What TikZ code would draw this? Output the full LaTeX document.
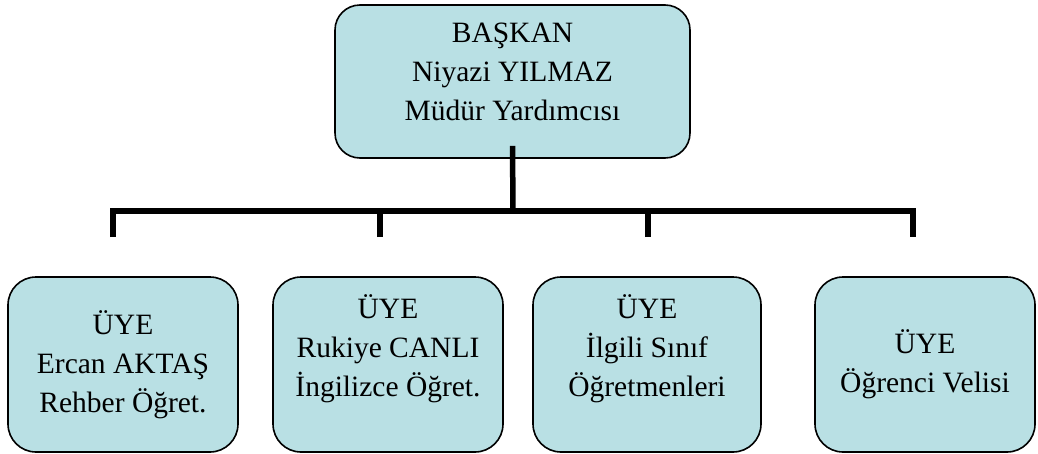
\documentclass[tikz,border=0pt]{standalone}
\usepackage{fontspec}
\setmainfont{Liberation Serif}
\definecolor{boxblue}{RGB}{185,224,228}
\tikzset{
  member/.style={draw=black, line width=1.6pt, fill=boxblue, rounded corners=28pt},
  membertext/.style={align=center, font=\fontsize{29.5}{39}\selectfont},
  bar/.style={line width=5.5pt, line join=miter}
}

\begin{document}
\begin{tikzpicture}[x=1pt,y=-1pt]

  % fixed frame, same size as the page
  \useasboundingbox (0,0) rectangle (1038,453);

  % head of the commission
  \node[member, rounded corners=25pt, minimum width=355pt, minimum height=153pt] (baskan) at (512.5,81.5) {};
  \node[membertext] (baskantext) at ([yshift=10pt]baskan.center) {BAŞKAN\\Niyazi YILMAZ\\Müdür Yardımcısı};

  % the four members
  \node[member, minimum width=230pt, minimum height=175pt] (uye1) at (123,364.5) {};
  \node[member, minimum width=230pt, minimum height=175pt] (uye2) at (388,364.5) {};
  \node[member, minimum width=228pt, minimum height=175pt] (uye3) at (647,364.5) {};
  \node[member, minimum width=220pt, minimum height=175pt] (uye4) at (925,364.5) {};

  \node[membertext] (uye1text) at (uye1.center) {ÜYE\\Ercan AKTAŞ\\Rehber Öğret.};
  \node[membertext] (uye2text) at ([yshift=16pt]uye2.center) {ÜYE\\Rukiye CANLI\\İngilizce Öğret.};
  \node[membertext] (uye3text) at ([yshift=16pt]uye3.center) {ÜYE\\İlgili Sınıf\\Öğretmenleri};
  \node[membertext] (uye4text) at (uye4.center) {ÜYE\\Öğrenci Velisi};

  % bus line and drops
  \coordinate (bus) at (513,211);
  \foreach \x/\n in {113/1,380/2,648/3,913/4}{
    \coordinate (drop\n) at (\x,237);
  }
  \draw[bar] ([yshift=13pt]baskan.south) -- (bus);
  \draw[bar] (drop1) -- (drop1 |- bus) -- (drop4 |- bus) -- (drop4);
  \foreach \n in {2,3}{
    \draw[bar] (drop\n) -- (drop\n |- bus);
  }

\end{tikzpicture}
\end{document}
